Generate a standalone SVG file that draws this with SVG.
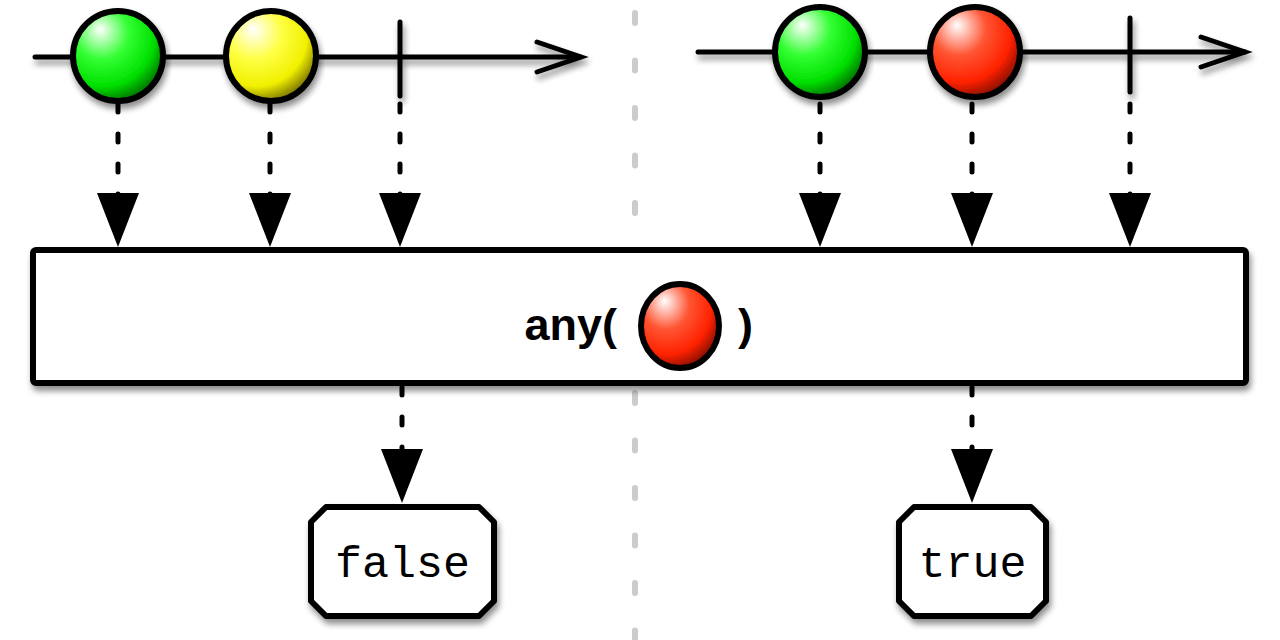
<svg xmlns="http://www.w3.org/2000/svg" width="1280" height="640" viewBox="0 0 1280 640">
<defs>
<filter id="sh" x="-10%" y="-20%" width="120%" height="150%">
<feGaussianBlur in="SourceAlpha" stdDeviation="3"/>
<feOffset dx="2" dy="5" result="b"/>
<feComponentTransfer><feFuncA type="linear" slope="0.45"/></feComponentTransfer>
<feMerge><feMergeNode/><feMergeNode in="SourceGraphic"/></feMerge>
</filter>
<radialGradient id="gGreen" cx="0.35" cy="0.3" r="0.75" fx="0.3" fy="0.2">
<stop offset="0" stop-color="#ffffff"/>
<stop offset="0.4" stop-color="#33ff33"/>
<stop offset="0.75" stop-color="#00e000"/>
<stop offset="1" stop-color="#006600"/>
</radialGradient>
<radialGradient id="gYellow" cx="0.35" cy="0.3" r="0.75" fx="0.3" fy="0.2">
<stop offset="0" stop-color="#ffffff"/>
<stop offset="0.4" stop-color="#ffff44"/>
<stop offset="0.75" stop-color="#f0f000"/>
<stop offset="1" stop-color="#6e6600"/>
</radialGradient>
<radialGradient id="gRed" cx="0.35" cy="0.3" r="0.75" fx="0.3" fy="0.2">
<stop offset="0" stop-color="#ffffff"/>
<stop offset="0.4" stop-color="#ff5533"/>
<stop offset="0.75" stop-color="#ff2200"/>
<stop offset="1" stop-color="#7a0c00"/>
</radialGradient>
<marker id="tri" viewBox="0 0 54 42" refX="54" refY="21" markerWidth="54" markerHeight="42" markerUnits="userSpaceOnUse" orient="auto">
<path d="M0,0 L54,21 L0,42 Z" fill="#000"/>
</marker>
<marker id="triH" viewBox="0 0 42 32" refX="42" refY="16" markerWidth="42" markerHeight="32" markerUnits="userSpaceOnUse" orient="auto">
<path d="M0,0 L42,16 L0,32 Z" fill="#000"/>
</marker>
</defs>
<style>
.line{stroke:#000;stroke-width:5;stroke-linecap:round;fill:none}
.dot{stroke:#000;stroke-width:5;stroke-linecap:round;fill:none;stroke-dasharray:8 22}
.ball{stroke:#000;stroke-width:6}
.box{fill:#fff;stroke:#000;stroke-width:6;stroke-linejoin:round}
.mono{font-family:"Liberation Mono","Courier New",monospace;font-size:45px;fill:#000}
.bold{font-family:"Liberation Sans",Arial,sans-serif;font-weight:bold;font-size:45px;fill:#000}
</style>
<rect width="1280" height="640" fill="#fff"/>
<line x1="635" y1="13" x2="635" y2="640" stroke="#cccccc" stroke-width="6" stroke-linecap="round" stroke-dasharray="10 37.5"/>

<g id="connectors">
<g filter="url(#sh)">
<line class="line" x1="35" y1="57" x2="580" y2="57"/>
<polyline class="line" points="537,42 581,57 537,72"/>
<line class="line" x1="698" y1="52" x2="1245" y2="52"/>
<polyline class="line" points="1201,37 1245,52 1201,67"/>
<line class="line" x1="400" y1="22" x2="400" y2="96"/>
<line class="line" x1="1130" y1="18" x2="1130" y2="92"/>
</g>
<g>
<line class="dot" x1="118" y1="104" x2="118" y2="247" marker-end="url(#tri)"/>
<line class="dot" x1="270" y1="104" x2="270" y2="247" marker-end="url(#tri)"/>
<line class="dot" x1="400" y1="104" x2="400" y2="247" marker-end="url(#tri)"/>
<line class="dot" x1="820" y1="104" x2="820" y2="247" marker-end="url(#tri)"/>
<line class="dot" x1="972" y1="104" x2="972" y2="247" marker-end="url(#tri)"/>
<line class="dot" x1="1130" y1="104" x2="1130" y2="247" marker-end="url(#tri)"/>
<line class="dot" x1="402" y1="387" x2="402" y2="503" marker-end="url(#tri)"/>
<line class="dot" x1="972" y1="387" x2="972" y2="503" marker-end="url(#tri)"/>
</g>
<g filter="url(#sh)">
<line class="line" x1="37" y1="563" x2="308" y2="563" marker-end="url(#triH)"/>
<line class="line" x1="670" y1="563" x2="896" y2="563" marker-end="url(#triH)"/>
</g>
</g>

<g id="marble-green-1" filter="url(#sh)"><circle class="ball" cx="118" cy="56" r="45" fill="url(#gGreen)"/></g>
<g id="marble-yellow" filter="url(#sh)"><circle class="ball" cx="271" cy="56" r="45" fill="url(#gYellow)"/></g>
<g id="marble-green-2" filter="url(#sh)"><circle class="ball" cx="820" cy="52" r="45" fill="url(#gGreen)"/></g>
<g id="marble-red" filter="url(#sh)"><circle class="ball" cx="975" cy="52" r="45" fill="url(#gRed)"/></g>

<g id="operator">
<rect class="box" x="33" y="250" width="1213" height="133" rx="3" filter="url(#sh)"/>
<text class="bold" x="617" y="340" text-anchor="end">any(</text>
<ellipse class="ball" cx="680" cy="326" rx="39" ry="42" fill="url(#gRed)"/>
<text class="bold" x="738" y="340">)</text>
</g>

<g id="result-false">
<path class="box" d="M326,507 L479,507 L494,522 L494,601 L479,616 L326,616 L311,601 L311,522 Z" filter="url(#sh)"/>
<text class="mono" x="402.5" y="577" text-anchor="middle">false</text>
</g>
<g id="result-true">
<path class="box" d="M914,507 L1031,507 L1046,522 L1046,601 L1031,616 L914,616 L899,601 L899,522 Z" filter="url(#sh)"/>
<text class="mono" x="972.5" y="577" text-anchor="middle">true</text>
</g>
</svg>
